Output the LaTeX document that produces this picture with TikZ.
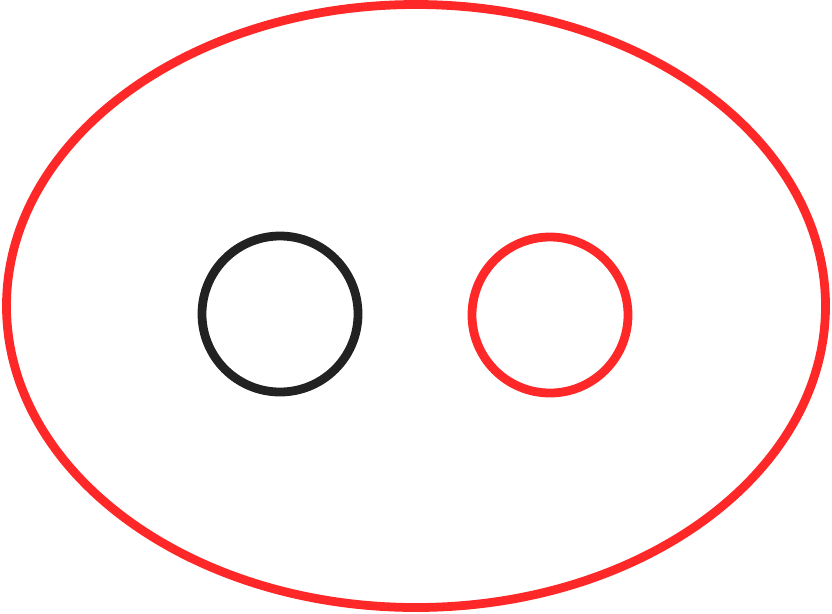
\documentclass[tikz,border=0pt]{standalone}
\usetikzlibrary{shapes}
\definecolor{ringred}{RGB}{255,40,40}
\definecolor{ringblack}{RGB}{34,34,34}
\newcommand{\outerOval}[6]{\node[ellipse,draw=#6,line width=5pt,inner sep=0pt,minimum width=#4cm,minimum height=#5cm] (#1) at (#2,#3) {};}
\newcommand{\ring}[5]{\node[circle,draw=#5,line width=5pt,inner sep=0pt,minimum size=#4cm] (#1) at (#2,#3) {};}

\begin{document}
\begin{tikzpicture}
    \useasboundingbox (0,0) rectangle (16.64,-12.26);
    \outerOval{outer}{8.32}{-6.12}{16.38}{12.06}{ringred}
    \ring{left}{5.6}{-6.28}{3.12}{ringblack}
    \ring{right}{11.0}{-6.3}{3.12}{ringred}
\end{tikzpicture}
\end{document}
